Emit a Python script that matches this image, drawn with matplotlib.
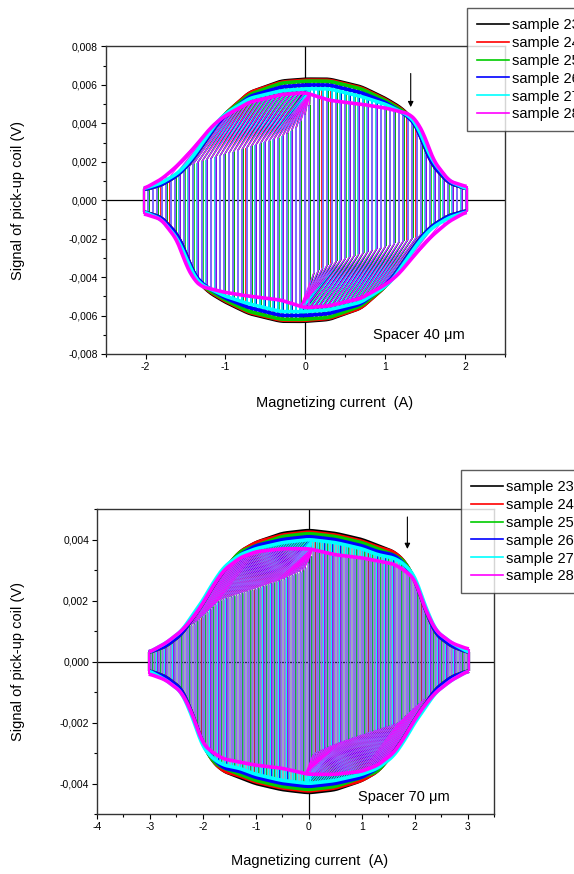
#!/usr/bin/env python3
"""Pick-up coil signal vs magnetizing current, samples 23-28, spacer 40 and 70 um."""
import numpy as np
import matplotlib
matplotlib.use("Agg")
import matplotlib.pyplot as plt
from matplotlib.collections import LineCollection
from matplotlib.lines import Line2D
from matplotlib.ticker import MultipleLocator, FuncFormatter

plt.rcParams['font.family'] = ['Liberation Sans', 'DejaVu Sans']

LABELS = ["sample 23", "sample 24", "sample 25", "sample 26", "sample 27", "sample 28"]
COLORS = ["#000000", "#ff0000", "#00cc00", "#0000ff", "#00ffff", "#ff00ff"]
# place of each sample's strokes inside one period, and stroke opacity
PHASE = [0.06, -0.08, 0.1, 0.0, -0.06, 0.0]
STROKE_ALPHA = [1.0, 1.0, 1.0, 1.0, 1.0, 0.6]

# ---- spacer 40 um: upper envelope of the pick-up signal (V) vs current (A)
CUR_40 = [-2.02, -1.8, -1.6, -1.5, -1.4, -1.3, -1.2, -1.1, -1.0, -0.7, -0.3,
          0.0, 0.3, 0.7, 1.0, 1.2, 1.3, 1.4, 1.5, 1.6, 1.8, 2.02]
ENV_40 = [
    [0.00055, 0.0008, 0.0013, 0.0017, 0.0022, 0.0028, 0.0034, 0.0040, 0.0045, 0.0056, 0.0062,
     0.0063, 0.0063, 0.0059, 0.0053, 0.0048, 0.0044, 0.0038, 0.0027, 0.0018, 0.0009, 0.0006],
    [0.00055, 0.0008, 0.0013, 0.0017, 0.0022, 0.0028, 0.0034, 0.0040, 0.0045, 0.0056, 0.00615,
     0.00625, 0.00625, 0.00585, 0.00525, 0.00475, 0.0044, 0.0038, 0.0027, 0.0018, 0.0009, 0.0006],
    [0.00055, 0.0008, 0.0013, 0.0017, 0.0022, 0.0028, 0.0034, 0.0040, 0.0045, 0.0055, 0.0061,
     0.0062, 0.0062, 0.0058, 0.0052, 0.0047, 0.0044, 0.0039, 0.0028, 0.0019, 0.0009, 0.0006],
    [0.00055, 0.0008, 0.0013, 0.0017, 0.0022, 0.0028, 0.0034, 0.0040, 0.0044, 0.0054, 0.0059,
     0.0060, 0.0060, 0.0056, 0.0051, 0.0046, 0.0043, 0.0038, 0.0027, 0.0018, 0.0009, 0.0006],
    [0.0006, 0.0009, 0.0014, 0.0018, 0.0023, 0.0029, 0.0035, 0.0041, 0.0045, 0.0053, 0.0057,
     0.0058, 0.0058, 0.0054, 0.0050, 0.0046, 0.0044, 0.0039, 0.0029, 0.0020, 0.0010, 0.0006],
    [0.0006, 0.0011, 0.0018, 0.0022, 0.0027, 0.0032, 0.0037, 0.0041, 0.0044, 0.0051, 0.0055,
     0.0056, 0.0052, 0.0050, 0.0048, 0.0046, 0.0045, 0.0041, 0.0033, 0.0021, 0.0010, 0.0007],
]
# top of the switching strokes on the rising branch
INNER_CUR_40 = [-1.6, -1.4, -1.0, -0.6, -0.3, -0.1, 0.0, 0.06]
INNER_TOP_40 = [0.0013, 0.0019, 0.0024, 0.0029, 0.0033, 0.0038, 0.0045, 0.0050]

# ---- spacer 70 um
CUR_70 = [-3.02, -2.7, -2.4, -2.2, -2.0, -1.8, -1.6, -1.3, -1.0, -0.5, 0.0,
          0.5, 1.0, 1.3, 1.6, 1.8, 2.0, 2.2, 2.4, 2.7, 3.02]
ENV_70 = [
    [0.0003, 0.0005, 0.0009, 0.0014, 0.0019, 0.0025, 0.0030, 0.0036, 0.0039, 0.0042, 0.0043,
     0.0042, 0.0040, 0.0038, 0.0036, 0.0033, 0.0027, 0.0017, 0.0009, 0.0005, 0.0003],
    [0.0003, 0.0005, 0.0009, 0.0014, 0.0019, 0.0025, 0.0030, 0.0036, 0.0039, 0.00415, 0.00425,
     0.00415, 0.00395, 0.00375, 0.0036, 0.0033, 0.0027, 0.0017, 0.0009, 0.0005, 0.0003],
    [0.0003, 0.0005, 0.0009, 0.0014, 0.0019, 0.0025, 0.0030, 0.0036, 0.0038, 0.0041, 0.0042,
     0.0041, 0.0039, 0.0037, 0.0035, 0.0033, 0.0027, 0.0017, 0.0009, 0.0005, 0.0003],
    [0.0003, 0.0005, 0.0009, 0.0014, 0.0019, 0.0025, 0.0030, 0.0035, 0.0038, 0.0040, 0.0041,
     0.0040, 0.0038, 0.0036, 0.0035, 0.0032, 0.0027, 0.0017, 0.0009, 0.0005, 0.0003],
    [0.0003, 0.0006, 0.0010, 0.0015, 0.0020, 0.0026, 0.0031, 0.0035, 0.0037, 0.0039, 0.0040,
     0.0039, 0.0037, 0.0035, 0.0034, 0.0032, 0.0028, 0.0018, 0.0010, 0.0006, 0.0003],
    [0.0003, 0.0006, 0.0010, 0.0014, 0.0019, 0.0025, 0.0030, 0.0034, 0.0036, 0.0037, 0.0037,
     0.0035, 0.0034, 0.0033, 0.0032, 0.0030, 0.0027, 0.0017, 0.0010, 0.0006, 0.0004],
]
INNER_CUR_70 = [-2.2, -2.0, -1.7, -1.0, -0.5, -0.1, 0.0, 0.06]
INNER_TOP_70 = [0.0012, 0.0015, 0.0020, 0.0024, 0.0027, 0.0030, 0.0033, 0.0036]


def comma_fmt(decimals):
    return FuncFormatter(lambda v, p: f"{v:.{decimals}f}".replace(".", ","))


def smooth_env(cur, vals, x_end):
    # dense, lightly smoothed copy of the read envelope (removes polygon corners)
    xx = np.linspace(-x_end, x_end, 801)
    yy = np.interp(xx, cur, vals)
    k = np.ones(25) / 25
    ys = np.convolve(np.pad(yy, 12, mode="edge"), k, mode="valid")
    return xx, ys


def draw_traces(ax, cur, env, inner_cur, inner_top, x_end, period, x_switch, fan_dx, lw):
    inner = lambda x: np.interp(x, inner_cur, inner_top)
    envs = [smooth_env(cur, env[s], x_end) for s in range(len(COLORS))]

    for s, color in enumerate(COLORS):
        ex, ey = envs[s]
        up = lambda x: np.interp(x, ex, ey)
        lo = lambda x: -np.interp(-x, ex, ey)

        xs = np.arange(-x_end, x_end + 1e-9, period) + PHASE[s] * period
        xs = xs[np.abs(xs) <= x_end]
        xl = xs[xs < x_switch]
        xr = xs[xs >= x_switch]
        top_l = np.minimum(inner(xl), up(xl))
        bot_r = np.maximum(-inner(-xr), lo(xr))
        kw = dict(color=color, lw=lw, alpha=STROKE_ALPHA[s], zorder=2)
        ax.vlines(xl, lo(xl), top_l, **kw)
        ax.vlines(xr, bot_r, up(xr), **kw)

        # slanted strokes between switching level and saturation
        m = inner(xl) < up(xl)
        x0 = xl[m]
        x1 = np.minimum(x0 + fan_dx, x_switch)
        segs = [[(a, inner(a)), (b, up(b))] for a, b in zip(x0, x1)]
        m = -inner(-xr) > lo(xr)
        x0 = xr[m]
        x1 = np.maximum(x0 - fan_dx, -x_switch)
        segs += [[(a, -inner(-a)), (b, lo(b))] for a, b in zip(x0, x1)]
        ax.add_collection(LineCollection(segs, colors=color, lw=0.7, zorder=2))

    # saturation bands, outermost sample first
    for s, color in enumerate(COLORS):
        ex, ey = envs[s]
        ax.plot(ex, ey, color=color, lw=2.6, zorder=3, solid_capstyle="butt")
        ax.plot(-ex, -ey, color=color, lw=2.6, zorder=3, solid_capstyle="butt")
        ax.vlines([-x_end, x_end], [-ey[-1], -ey[0]], [ey[0], ey[-1]],
                  color=color, lw=1.5, zorder=3)


def style_axes(ax, xlim, ylim, ymajor, decimals):
    ax.set_xlim(*xlim)
    ax.set_ylim(*ylim)
    ax.axhline(0, color="black", lw=0.9, zorder=1)
    ax.axvline(0, color="black", lw=0.9, zorder=1)
    ax.xaxis.set_major_locator(MultipleLocator(1))
    ax.xaxis.set_minor_locator(MultipleLocator(0.5))
    ax.yaxis.set_major_locator(MultipleLocator(ymajor))
    ax.yaxis.set_minor_locator(MultipleLocator(ymajor / 2))
    ax.xaxis.set_major_formatter(FuncFormatter(lambda v, p: f"{v:.0f}"))
    ax.yaxis.set_major_formatter(comma_fmt(decimals))
    ax.tick_params(which="both", direction="out", top=False, right=False,
                   labelsize=7.5, colors="black")
    ax.tick_params(which="major", length=3.5, width=0.8, pad=2)
    ax.tick_params(which="minor", length=2, width=0.8)
    for sp in ax.spines.values():
        sp.set_linewidth(1.0)
        sp.set_color("#333333")
    ax.set_xlabel("Magnetizing current  (A)", fontsize=10.5)
    ax.set_ylabel("Signal of pick-up coil (V)", fontsize=10.5)


fig = plt.figure(figsize=(5.74, 8.74), dpi=100)
ax1 = fig.add_axes([0.184, 0.595, 0.6957, 0.3518])
ax2 = fig.add_axes([0.1685, 0.0686, 0.6927, 0.349])

draw_traces(ax1, CUR_40, ENV_40, INNER_CUR_40, INNER_TOP_40, 2.02, 0.056, 0.06, 0.5, 1.2)
style_axes(ax1, (-2.5, 2.5), (-0.008, 0.008), 0.002, 3)
ax1.xaxis.set_label_coords(0.573, -0.137)
ax1.yaxis.set_label_coords(-0.202, 0.5)
ax1.text(0.845, -0.0070, "Spacer 40 \u03bcm", fontsize=10.5, va="center")
ax1.annotate("", xy=(1.32, 0.0047), xytext=(1.32, 0.00674),
             arrowprops=dict(arrowstyle="-|>", color="black", lw=0.8, mutation_scale=8))

draw_traces(ax2, CUR_70, ENV_70, INNER_CUR_70, INNER_TOP_70, 3.02, 0.05, 0.06, 0.7, 0.9)
style_axes(ax2, (-4, 3.5), (-0.005, 0.005), 0.002, 3)
ax2.xaxis.set_label_coords(0.536, -0.131)
ax2.yaxis.set_label_coords(-0.18, 0.5)
ax2.text(0.92, -0.00444, "Spacer 70 \u03bcm", fontsize=10.5, va="center")
ax2.annotate("", xy=(1.86, 0.0036), xytext=(1.86, 0.00483),
             arrowprops=dict(arrowstyle="-|>", color="black", lw=0.8, mutation_scale=8))

handles = [Line2D([], [], color=c, lw=1.2) for c in COLORS]
for ax, anchor in [(ax1, (467 / 574, 1 - 8 / 874)), (ax2, (461 / 574, 1 - 470 / 874))]:
    leg = ax.legend(handles, LABELS, loc="upper left", bbox_to_anchor=anchor,
                    bbox_transform=fig.transFigure, fontsize=10.5, frameon=True,
                    fancybox=False, borderpad=0.67, labelspacing=0.27,
                    handlelength=2.2, handletextpad=0.25, borderaxespad=0)
    leg.get_frame().set_edgecolor("#333333")
    leg.get_frame().set_linewidth(1.0)
    leg.set_zorder(10)

fig.savefig("out.png", dpi=100)
